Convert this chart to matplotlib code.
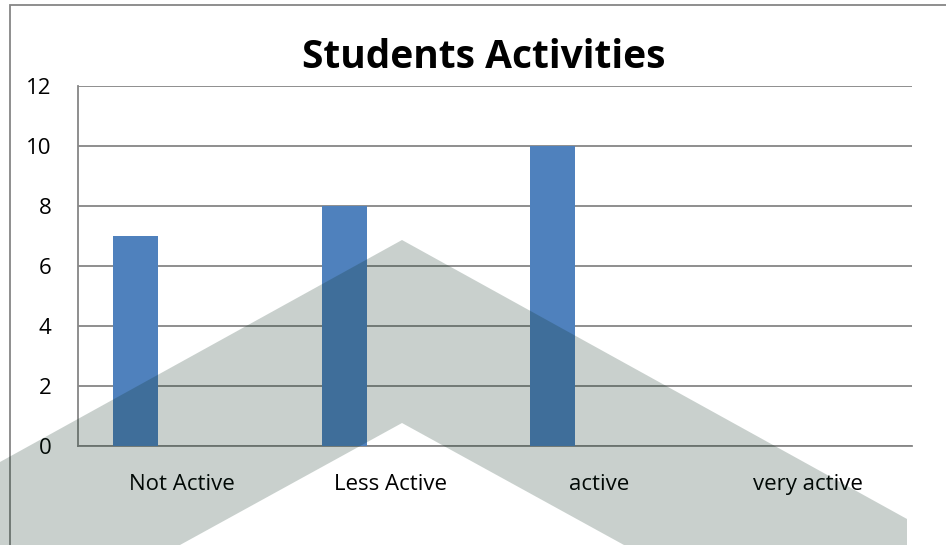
import matplotlib
matplotlib.use("Agg")
import matplotlib.pyplot as plt
from matplotlib.patches import Polygon, Rectangle

categories = ["Not Active", "Less Active", "active", "very active"]
values = [7, 8, 10, 0]
yticks = [0, 2, 4, 6, 8, 10, 12]
title = "Students Activities"

W, H = 946, 545
DPI = 100
plt.rcParams['font.family'] = ['Open Sans', 'DejaVu Sans']

fig = plt.figure(figsize=(W / DPI, H / DPI), dpi=DPI)
fig.patch.set_facecolor("white")

def fx(x):
    return x / W

def fy(y):
    return 1 - y / H

ax = fig.add_axes([fx(78), fy(446), fx(912) - fx(78), fy(86) - fy(446)])
grid_c = "#868686"
x = list(range(len(categories)))
ax.bar([i - 0.224 for i in x], values, width=0.216, color="#4F81BD", zorder=3)
ax.set_xlim(-0.5, len(categories) - 0.5)
ax.set_ylim(0, 12)
ax.set_yticks(yticks)
ax.set_yticklabels([str(t) for t in yticks], fontsize=16)
ax.set_xticks(x)
ax.set_xticklabels(categories, fontsize=16)
ax.tick_params(axis="both", length=0, colors="black")
ax.tick_params(axis="y", pad=19)
ax.tick_params(axis="x", pad=20)
ax.yaxis.grid(True, color=grid_c, linewidth=1.3, zorder=1)
ax.set_axisbelow(True)
for s in ["top", "right"]:
    ax.spines[s].set_visible(False)
for s in ["left", "bottom"]:
    ax.spines[s].set_color(grid_c)
    ax.spines[s].set_linewidth(1.3)

fig.text(fx(484), fy(58), title, ha="center", va="center", fontsize=28, fontweight="bold")

# outer chart frame
fig.add_artist(Rectangle((fx(10), fy(560)), fx(960) - fx(10), fy(5) - fy(560),
                         transform=fig.transFigure, fill=False, edgecolor=grid_c, linewidth=1.3))

# watermark
pts = [(0, 462), (402, 240), (907, 519), (907, 545), (624, 545), (402, 423), (180, 545), (0, 545)]
fig.add_artist(Polygon([(fx(a), fy(b)) for a, b in pts], closed=True, transform=fig.transFigure,
                       facecolor=(10 / 255, 45 / 255, 30 / 255), alpha=0.22, edgecolor="none", zorder=10))

fig.savefig("out.png", dpi=DPI)
